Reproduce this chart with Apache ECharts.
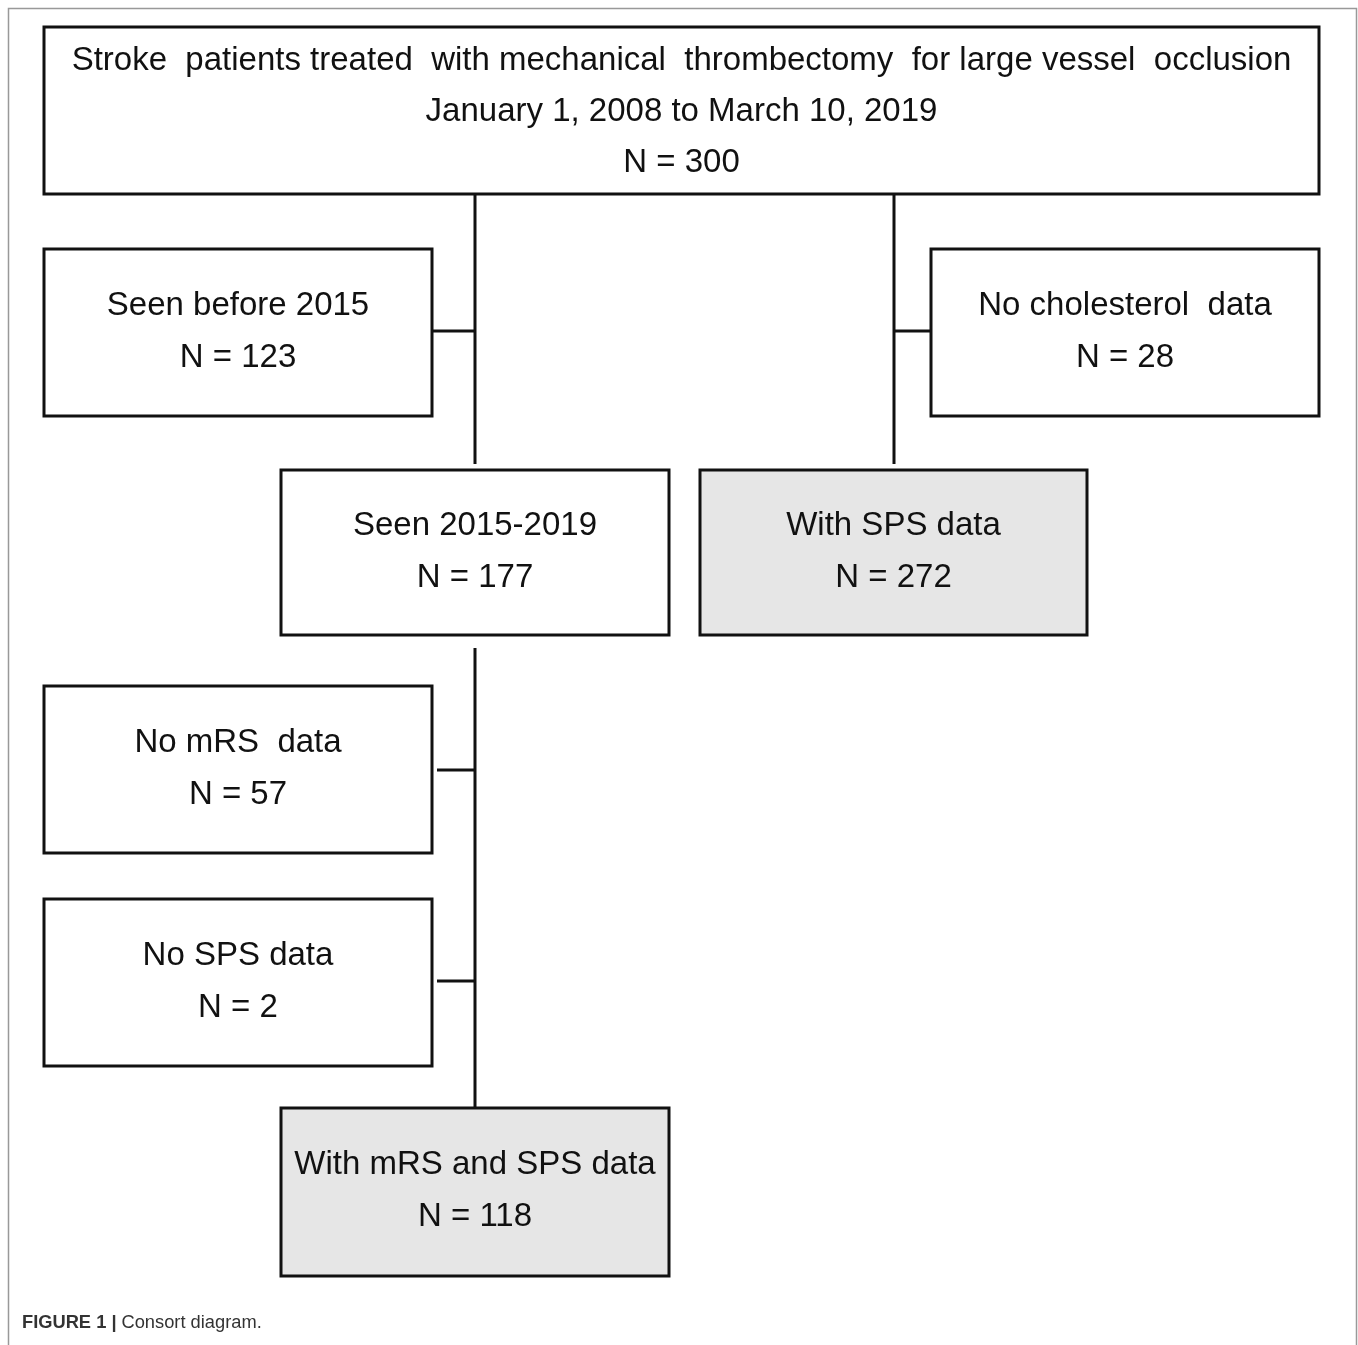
<!DOCTYPE html>
<html>
<head>
<meta charset="utf-8">
<script src="https://cdn.jsdelivr.net/npm/echarts@6/dist/echarts.min.js"></script>
<style>
html,body{margin:0;padding:0;background:#fff;}
#chart{width:1358px;height:1345px;}
</style>
</head>
<body>
<div id="chart"></div>
<script>
// ---- data ----
const boxTitles = [
  ['Stroke  patients treated  with mechanical  thrombectomy  for large vessel  occlusion', 'January 1, 2008 to March 10, 2019'],
  ['Seen before 2015'],
  ['No cholesterol  data'],
  ['Seen 2015-2019'],
  ['With SPS data'],
  ['No mRS  data'],
  ['No SPS data'],
  ['With mRS and SPS data']
];
const boxCounts = [300, 123, 28, 177, 272, 57, 2, 118];
const captionBold = 'FIGURE 1 |';
const captionText = 'Consort diagram.';

// ---- layout (positions / styles) ----
const boxRects = [
  [44, 27, 1319, 194],
  [44, 249, 432, 416],
  [931, 249, 1319, 416],
  [281, 470, 669, 635],
  [700, 470, 1087, 635],
  [44, 686, 432, 853],
  [44, 899, 432, 1066],
  [281, 1108, 669, 1276]
];
const boxShaded = [false, false, false, false, true, false, false, true];
const connectors = [
  [[475, 194], [475, 464]],
  [[432, 331], [475, 331]],
  [[894, 194], [894, 464]],
  [[894, 331], [931, 331]],
  [[475, 648], [475, 1108]],
  [[437, 770], [475, 770]],
  [[437, 981], [475, 981]]
];
const W = 1358, H = 1345;
const FONT = '"Liberation Sans", Arial, Helvetica, sans-serif';

const boxData = boxRects.map((r, i) => [r[0], r[1], r[2], r[3], i]);
const connData = connectors.map((c, i) => [c[0][0], c[0][1], c[1][0], c[1][1], i]);

const chart = echarts.init(document.getElementById('chart'), null, {renderer: 'canvas'});
chart.setOption({
  animation: false,
  backgroundColor: '#fff',
  grid: {left: 0, right: 0, top: 0, bottom: 0},
  xAxis: {type: 'value', min: 0, max: W, show: false},
  yAxis: {type: 'value', min: 0, max: H, inverse: true, show: false},
  title: {
    left: 22, top: 1314, padding: 0,
    text: '{b|' + captionBold + '} {r|' + captionText + '}',
    textStyle: {
      rich: {
        b: {fontFamily: FONT, fontWeight: 'bold', fontSize: 18.3, color: '#333'},
        r: {fontFamily: FONT, fontWeight: 'normal', fontSize: 18.3, color: '#333'}
      }
    }
  },
  graphic: [
    {type: 'polyline', shape: {points: [[8.5, H], [8.5, 8.5], [1356.5, 8.5], [1356.5, H]]},
     style: {stroke: '#999', lineWidth: 1.5, fill: null}, silent: true}
  ],
  series: [
    {
      type: 'custom',
      coordinateSystem: 'cartesian2d',
      data: connData,
      encode: {x: [0, 2], y: [1, 3]},
      renderItem: function (params, api) {
        const p0 = api.coord([api.value(0), api.value(1)]);
        const p1 = api.coord([api.value(2), api.value(3)]);
        return {
          type: 'line',
          shape: {x1: p0[0], y1: p0[1], x2: p1[0], y2: p1[1]},
          style: {stroke: '#111', lineWidth: 3}
        };
      }
    },
    {
      type: 'custom',
      coordinateSystem: 'cartesian2d',
      data: boxData,
      encode: {x: [0, 2], y: [1, 3]},
      renderItem: function (params, api) {
        const i = api.value(4);
        const p0 = api.coord([api.value(0), api.value(1)]);
        const p1 = api.coord([api.value(2), api.value(3)]);
        const lines = boxTitles[i].concat(['N = ' + boxCounts[i]]);
        const cx = (p0[0] + p1[0]) / 2;
        const cy = (p0[1] + p1[1]) / 2;
        const step = lines.length === 3 ? 51 : 52;
        const off = lines.length === 3 ? 1 : -1;
        const children = [{
          type: 'rect',
          shape: {x: p0[0], y: p0[1], width: p1[0] - p0[0], height: p1[1] - p0[1]},
          style: {fill: boxShaded[i] ? '#e6e6e6' : '#fff', stroke: '#111', lineWidth: 3}
        }];
        lines.forEach((t, k) => {
          children.push({
            type: 'text',
            style: {
              text: t,
              x: cx,
              y: cy + (k - (lines.length - 1) / 2) * step + off,
              align: 'center',
              verticalAlign: 'middle',
              fontFamily: FONT,
              fontSize: 33,
              fill: '#111'
            }
          });
        });
        return {type: 'group', children: children};
      }
    }
  ]
});
</script>
</body>
</html>
